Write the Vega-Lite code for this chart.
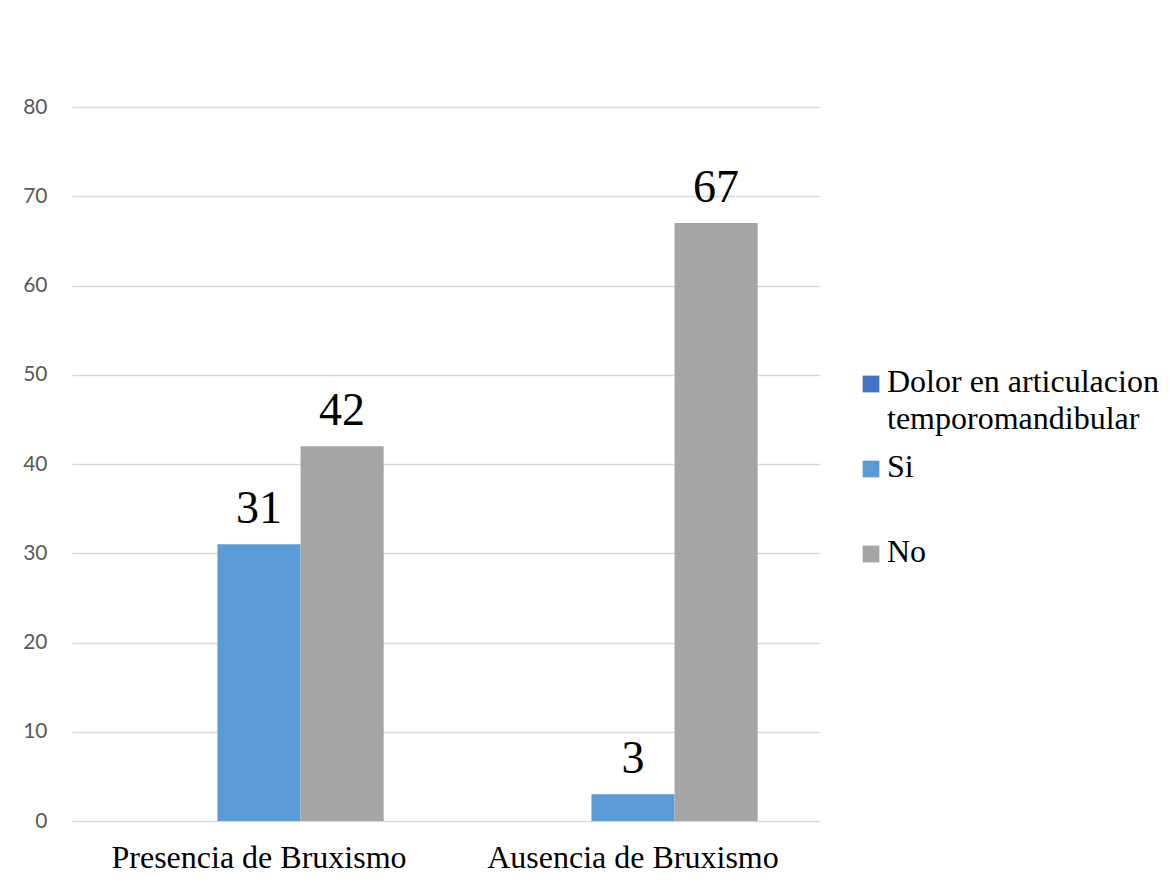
{
  "$schema": "https://vega.github.io/schema/vega-lite/v6.json",
  "width": 748,
  "height": 714,
  "autosize": "none",
  "padding": {"left": 72, "top": 107, "right": 355, "bottom": 67},
  "background": "white",
  "config": {"view": {"stroke": null}},
  "data": {
    "values": [
      {"grupo": "Presencia de Bruxismo", "serie": "Dolor en articulacion temporomandibular", "valor": null},
      {"grupo": "Presencia de Bruxismo", "serie": "Si", "valor": 31},
      {"grupo": "Presencia de Bruxismo", "serie": "No", "valor": 42},
      {"grupo": "Ausencia de Bruxismo", "serie": "Dolor en articulacion temporomandibular", "valor": null},
      {"grupo": "Ausencia de Bruxismo", "serie": "Si", "valor": 3},
      {"grupo": "Ausencia de Bruxismo", "serie": "No", "valor": 67}
    ]
  },
  "encoding": {
    "x": {
      "field": "grupo",
      "type": "nominal",
      "sort": ["Presencia de Bruxismo", "Ausencia de Bruxismo"],
      "scale": {"paddingInner": 0, "paddingOuter": 0},
      "axis": {
        "title": null,
        "domain": false,
        "ticks": false,
        "labelAngle": 0,
        "labelFont": "Liberation Serif",
        "labelFontSize": 32,
        "labelColor": "#000000",
        "labelPadding": 21,
        "labelLimit": 500
      }
    },
    "xOffset": {
      "field": "serie",
      "type": "nominal",
      "scale": {
        "domain": ["Dolor en articulacion temporomandibular", "Si", "No"],
        "paddingInner": 0,
        "paddingOuter": 0.75
      }
    },
    "y": {
      "field": "valor",
      "type": "quantitative",
      "scale": {"domain": [0, 80], "nice": false},
      "axis": {
        "title": null,
        "domain": false,
        "ticks": false,
        "values": [0, 10, 20, 30, 40, 50, 60, 70, 80],
        "gridColor": "#d9d9d9",
        "gridWidth": 1.5,
        "labelFont": "Lato",
        "labelFontSize": 21,
        "labelColor": "#595959",
        "labelPadding": 25
      }
    }
  },
  "layer": [
    {
      "mark": {"type": "bar"},
      "encoding": {
        "color": {
          "field": "serie",
          "type": "nominal",
          "scale": {
            "domain": ["Dolor en articulacion temporomandibular", "Si", "No"],
            "range": ["#4472c4", "#5b9bd5", "#a5a5a5"]
          },
          "legend": {
            "title": null,
            "orient": "none",
            "legendX": 783,
            "legendY": 261,
            "symbolType": "square",
            "symbolSize": 280,
            "symbolStrokeWidth": 0,
            "labelFont": "Liberation Serif",
            "labelFontSize": 32,
            "labelColor": "#000000",
            "labelOffset": 0,
            "labelLimit": 400,
            "gridAlign": "all",
            "rowPadding": 16,
            "labelExpr": "datum.label == 'Dolor en articulacion temporomandibular' ? ['Dolor en articulacion', 'temporomandibular'] : datum.label",
            "encode": {
              "labels": {
                "update": {
                  "baseline": {"value": "top"},
                  "dy": {"value": -17},
                  "lineHeight": {"value": 37}
                }
              }
            }
          }
        }
      }
    },
    {
      "transform": [{"filter": "datum.valor != null"}],
      "mark": {
        "type": "text",
        "font": "Liberation Serif",
        "fontSize": 46,
        "color": "#000000",
        "baseline": "alphabetic",
        "dy": -21
      },
      "encoding": {
        "text": {"field": "valor", "type": "quantitative"}
      }
    }
  ]
}
